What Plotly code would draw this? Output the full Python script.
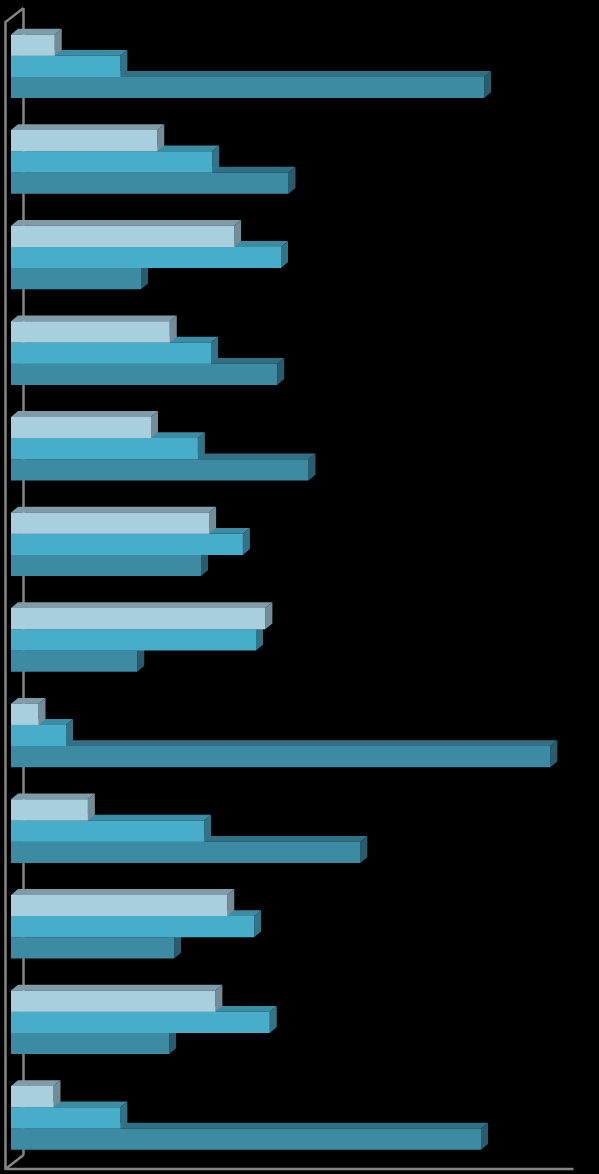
import plotly.graph_objects as go

groups = list(range(12))
light_values = [7.0, 23.4, 35.7, 25.4, 22.4, 31.7, 40.7, 4.4, 12.3, 34.6, 32.7, 6.8]
mid_values = [17.5, 32.2, 43.2, 32.0, 29.9, 37.1, 39.2, 8.8, 30.9, 38.9, 41.4, 17.5]
dark_values = [75.7, 44.4, 20.8, 42.6, 47.6, 30.4, 20.2, 86.3, 55.9, 26.1, 25.3, 75.2]

W, H = 599, 1174
PX_PER_X = 6.25
PX_PER_GROUP = 95.6
X0_PX, Y0_PX = 11.0, 66.3
ROW = 21.2 / PX_PER_GROUP
DX = 7.0 / PX_PER_X
DY = 5.8 / PX_PER_GROUP
AXIS_MAX = 90
GREY = "#858585"

series = [
    ("dark", dark_values, 1, "#3D8AA3", "#327085", "#2B5C6D"),
    ("mid", mid_values, 0, "#48ADC9", "#3C8CA3", "#337387"),
    ("light", light_values, -1, "#A9CFDF", "#809CA8", "#748C97"),
]

fig = go.Figure()


def poly(xs, ys, color, name, z):
    fig.add_trace(go.Scatter(x=xs, y=ys, mode="lines", fill="toself", fillcolor=color,
                             line=dict(width=0, color=color), hoverinfo="skip",
                             name=name, zorder=z))


# walls of the 3D frame, behind the bars
wall_l = -5.5 / PX_PER_X
back_l = wall_l + 18 / PX_PER_X
top_f = (22 - Y0_PX) / PX_PER_GROUP
top_b = (8 - Y0_PX) / PX_PER_GROUP
bot_f = (1169 - Y0_PX) / PX_PER_GROUP
bot_b = (1155 - Y0_PX) / PX_PER_GROUP
fig.add_trace(go.Scatter(
    x=[back_l, back_l, None, back_l, wall_l, wall_l, AXIS_MAX, None, wall_l, back_l],
    y=[bot_b, top_b, None, top_b, top_f, bot_f, bot_f, None, bot_f, bot_b],
    mode="lines", line=dict(color=GREY, width=2.5), hoverinfo="skip", zorder=0))

z = 1
for name, vals, row, front, top, side in series:
    tx, ty, sx, sy = [], [], [], []
    ys = [g + row * ROW for g in groups]
    for v, c in zip(vals, ys):
        t, b = c - ROW / 2, c + ROW / 2
        tx += [0, DX, v + DX, v, 0, None]
        ty += [t, t - DY, t - DY, t, t, None]
        sx += [v, v + DX, v + DX, v, v, None]
        sy += [t, t - DY, b - DY, b, t, None]
    poly(tx, ty, top, name + " top", z)
    poly(sx, sy, side, name + " side", z + 1)
    fig.add_trace(go.Bar(x=vals, y=ys, orientation="h", width=ROW, marker=dict(color=front, line=dict(width=0)),
                         name=name, zorder=z + 2))
    z += 3

fig.update_layout(
    width=W, height=H, margin=dict(l=0, r=0, t=0, b=0, pad=0),
    paper_bgcolor="black", plot_bgcolor="black", showlegend=False, barmode="overlay",
    xaxis=dict(range=[-X0_PX / PX_PER_X, (W - X0_PX) / PX_PER_X], visible=False, fixedrange=True),
    yaxis=dict(range=[(H - Y0_PX) / PX_PER_GROUP, -Y0_PX / PX_PER_GROUP], visible=False, fixedrange=True),
)
fig.write_html("out.html", config=dict(displayModeBar=False),
               post_script="document.body.style.margin='0';document.body.style.background='black';")
